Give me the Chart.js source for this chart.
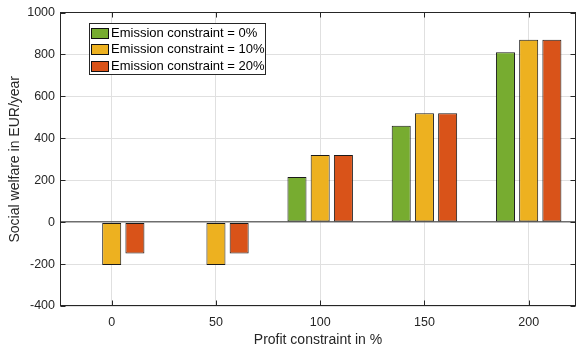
<!DOCTYPE html>
<html>
<head>
<meta charset="utf-8">
<script src="https://cdn.jsdelivr.net/npm/chart.js@4.4.1/dist/chart.umd.min.js"></script>
<style>
  body { margin: 0; background: #fff; }
  #wrap { width: 576px; height: 352px; }
</style>
</head>
<body>
<div id="wrap"><canvas id="welfareChart" width="576" height="352"></canvas></div>
<script>
const profitConstraint = [0, 50, 100, 150, 200]
const emission0 = [null, null, 215, 460, 810]
const emission10 = [-205, -205, 320, 520, 870]
const emission20 = [-150, -150, 320, 520, 870]
const seriesLabels = ['Emission constraint = 0%', 'Emission constraint = 10%', 'Emission constraint = 20%']
const yTicks = [-400, -200, 0, 200, 400, 600, 800, 1000]

const textColor = '#262626'
const fontFamily = '"Liberation Sans", Arial, Helvetica, sans-serif'

const toPoints = vals => profitConstraint.map((p, i) => ({x: p, y: vals[i]}))

// box round the plot, with inward ticks on all four sides, plus the legend inside
const framePlugin = {
  id: 'frame',
  afterDraw(chart) {
    const {ctx, chartArea: a, scales} = chart
    const x0 = Math.floor(a.left) + 0.5, x1 = Math.ceil(a.right) - 0.5
    const y0 = Math.floor(a.top) + 0.5, y1 = Math.ceil(a.bottom) - 0.5
    ctx.save()
    ctx.strokeStyle = textColor
    ctx.lineWidth = 1
    ctx.strokeRect(x0, y0, x1 - x0, y1 - y0)
    ctx.beginPath()
    profitConstraint.forEach(v => {
      const px = Math.round(scales.x.getPixelForValue(v)) + 0.5
      ctx.moveTo(px, y1); ctx.lineTo(px, y1 - 5)
      ctx.moveTo(px, y0); ctx.lineTo(px, y0 + 5)
    })
    yTicks.forEach(v => {
      const py = Math.round(scales.y.getPixelForValue(v)) + 0.5
      ctx.moveTo(x0, py); ctx.lineTo(x0 + 5, py)
      ctx.moveTo(x1, py); ctx.lineTo(x1 - 5, py)
    })
    ctx.stroke()

    // legend
    const lx = 89.5, ly = 23.5, lw = 176, lh = 51
    ctx.fillStyle = '#fff'
    ctx.fillRect(lx, ly, lw, lh)
    ctx.strokeStyle = textColor
    ctx.strokeRect(lx, ly, lw, lh)
    ctx.font = '13px ' + fontFamily
    ctx.textBaseline = 'middle'
    chart.data.datasets.forEach((ds, i) => {
      const cy = ly + 9 + i * 16.5
      ctx.fillStyle = ds.backgroundColor
      ctx.fillRect(91, Math.round(cy - 5), 17, 10)
      ctx.strokeStyle = '#111'
      ctx.strokeRect(91.5, Math.round(cy - 5) + 0.5, 17, 10)
      ctx.fillStyle = '#000'
      ctx.fillText(ds.label, 111, cy + 0.5)
    })
    ctx.restore()
  }
}

new Chart(document.getElementById('welfareChart'), {
  type: 'bar',
  data: {
    datasets: [{
      label: seriesLabels[0],
      data: toPoints(emission0),
      backgroundColor: '#77AC30'
    }, {
      label: seriesLabels[1],
      data: toPoints(emission10),
      backgroundColor: '#EDB120'
    }, {
      label: seriesLabels[2],
      data: toPoints(emission20),
      backgroundColor: '#D95319'
    }]
  },
  options: {
    responsive: false,
    animation: false,
    categoryPercentage: 0.668,
    barPercentage: 0.82,
    datasets: {
      bar: { borderColor: '#1a1a1a', borderWidth: 1, borderSkipped: false }
    },
    layout: { padding: { top: 7, right: 0, left: 0, bottom: 0 } },
    plugins: {
      legend: { display: false },
      tooltip: { enabled: false }
    },
    scales: {
      x: {
        type: 'linear',
        min: -24.8,
        max: 222.7,
        offset: false,
        afterBuildTicks: axis => { axis.ticks = profitConstraint.map(v => ({value: v})) },
        afterFit: axis => { axis.height = 46 },
        grid: { color: '#e0e0e0', drawTicks: false, offset: false },
        border: { display: false },
        ticks: {
          color: textColor, padding: 9, font: { size: 12.5, family: fontFamily },
          callback: v => String(v)
        },
        title: {
          display: true,
          text: 'Profit constraint in %',
          color: textColor,
          font: { size: 14, family: fontFamily },
          padding: { top: 0, bottom: 3.6 }
        }
      },
      y: {
        min: -400,
        max: 1000,
        afterBuildTicks: axis => { axis.ticks = yTicks.map(v => ({value: v})) },
        afterFit: axis => { axis.width = 60 },
        grid: {
          color: c => c.tick && c.tick.value === 0 ? '#6e6e6e' : '#e0e0e0',
          lineWidth: c => c.tick && c.tick.value === 0 ? 1.5 : 1,
          drawTicks: false
        },
        border: { display: false },
        ticks: {
          color: textColor, padding: 5, font: { size: 12.5, family: fontFamily },
          callback: v => String(v)
        },
        title: {
          display: true,
          text: 'Social welfare in EUR/year',
          color: textColor,
          font: { size: 14, family: fontFamily },
          padding: { top: 6.6, bottom: 0 }
        }
      }
    }
  },
  plugins: [framePlugin]
})
</script>
</body>
</html>
